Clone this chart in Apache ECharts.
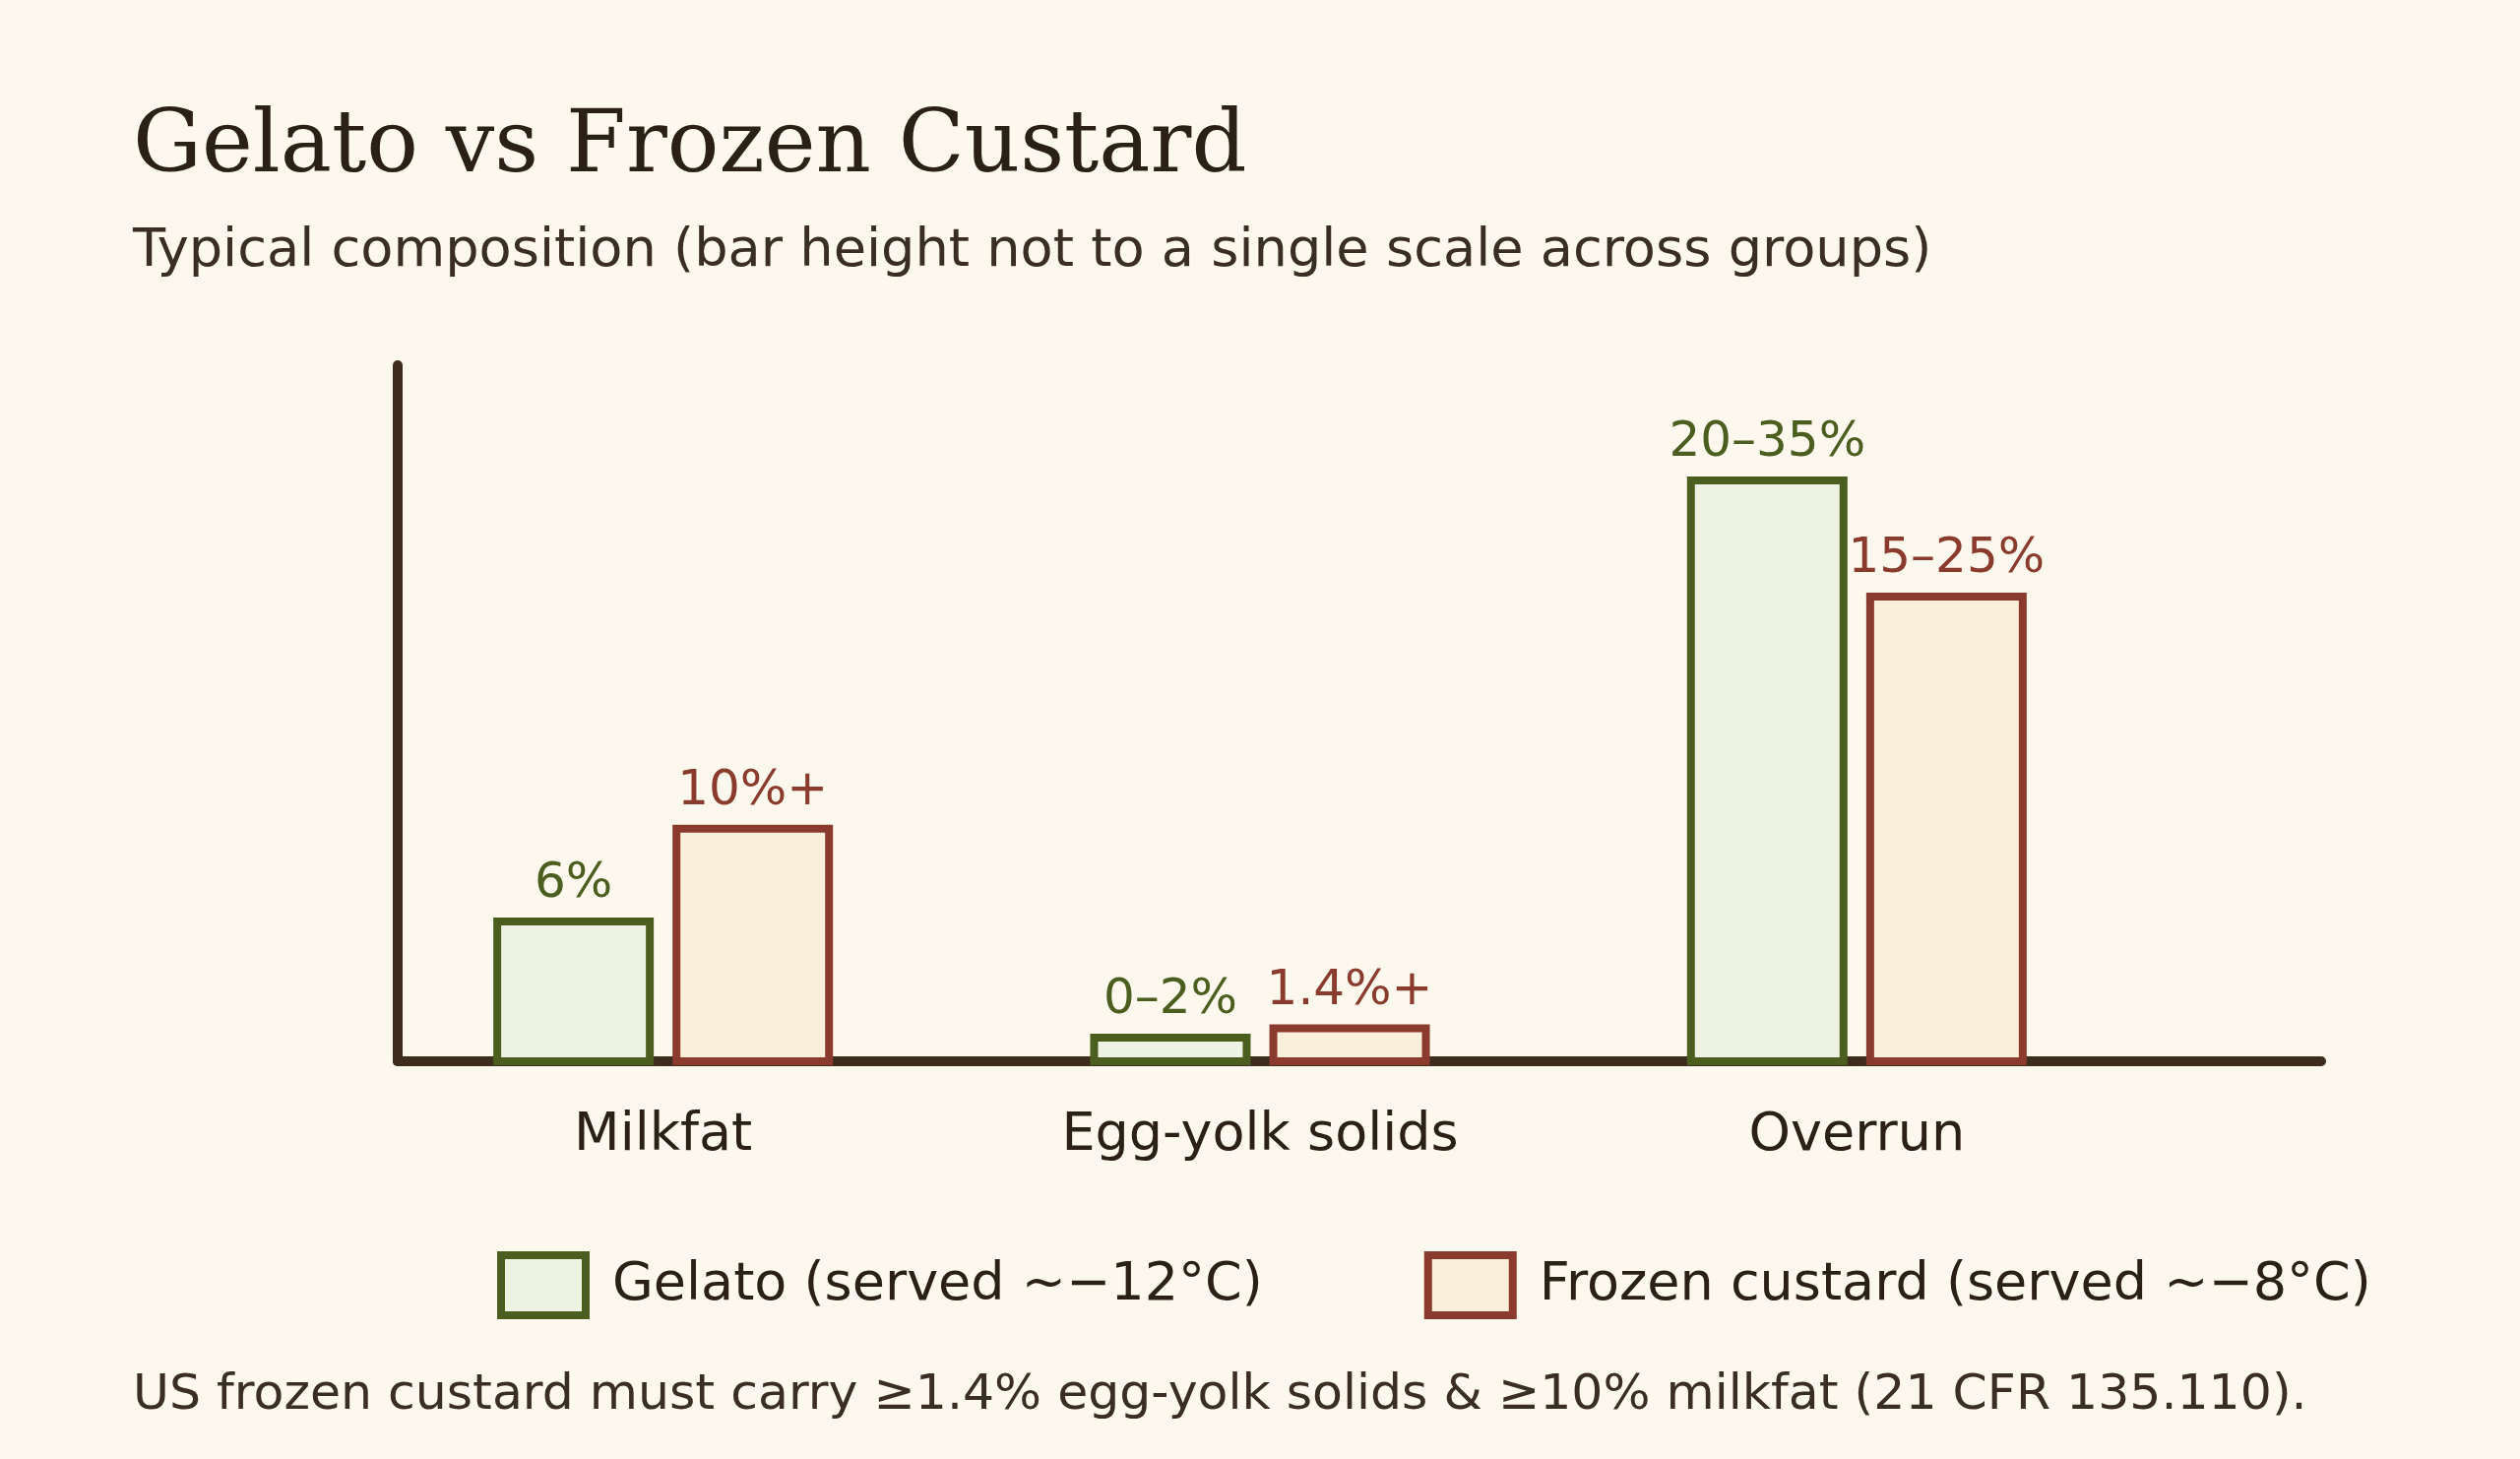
<!DOCTYPE html>
<html>
<head>
<meta charset="utf-8">
<title>Gelato vs Frozen Custard</title>
<script src="https://cdn.jsdelivr.net/npm/echarts@6/dist/echarts.min.js"></script>
<style>
  html, body { margin: 0; padding: 0; background: #fcf8ee; }
  #chart { width: 2560px; height: 1482px; }
</style>
</head>
<body>
<div id="chart"></div>
<script>
// groups and the drawn bar heights (heights are not to one scale across groups)
const categories = ['Milkfat', 'Egg-yolk solids', 'Overrun'];
const gelatoValues = [6, 1, 25];
const custardValues = [10, 1.4, 20];
const gelatoLabels = ['6%', '0–2%', '20–35%'];
const custardLabels = ['10%+', '1.4%+', '15–25%'];
const seriesNames = ['Gelato (served ~−12°C)', 'Frozen custard (served ~−8°C)'];

const ink = '#2b2015';
const axisColor = '#3d2b1b';
const green = '#4b5e20';
const red = '#8b3a2e';
const sans = 'DejaVu Sans';

const chart = echarts.init(document.getElementById('chart'));

function barSeries(name, values, labels, stroke, fill) {
  return {
    name: name,
    type: 'bar',
    xAxisIndex: 0,
    yAxisIndex: 0,
    data: values,
    barWidth: 163,
    barGap: '11.7%',
    itemStyle: { color: fill, borderColor: stroke, borderWidth: 8 },
    label: {
      show: true,
      position: 'top',
      distance: 9,
      color: stroke,
      fontFamily: sans,
      fontSize: 50,
      formatter: p => labels[p.dataIndex]
    },
    emphasis: { disabled: true }
  };
}

const option = {
  backgroundColor: '#fcf8ee',
  animation: false,
  title: [
    {
      text: 'Gelato vs Frozen Custard',
      left: 130, top: 102,
      textStyle: { fontFamily: 'DejaVu Serif', fontWeight: 'normal', fontSize: 87.6, color: ink }
    },
    {
      text: 'Typical composition (bar height not to a single scale across groups)',
      left: 130, top: 224,
      textStyle: { fontFamily: sans, fontWeight: 'normal', fontSize: 54.2, color: '#3a2e22' }
    },
    {
      text: 'US frozen custard must carry ≥1.4% egg-yolk solids & ≥10% milkfat (21 CFR 135.110).',
      left: 130, top: 1387,
      textStyle: { fontFamily: sans, fontWeight: 'normal', fontSize: 50.5, color: '#3a2e22' }
    }
  ],
  legend: {
    left: 505,
    top: 1271,
    padding: 0,
    itemWidth: 86,
    itemHeight: 61,
    itemGap: 164,
    icon: 'rect',
    selectedMode: false,
    itemStyle: { borderWidth: 8 },
    textStyle: { fontFamily: sans, fontSize: 54, color: ink, padding: [0, 0, 0, 22] },
    data: seriesNames
  },
  grid: [
    { left: 370.5, width: 1819, top: 366.2, height: 715.8 },
    { left: 404, width: 1954, top: 371, height: 707 }
  ],
  xAxis: [
    {
      type: 'category',
      gridIndex: 0,
      data: categories,
      axisLine: { show: false },
      axisTick: { show: false },
      axisLabel: { fontFamily: sans, fontSize: 54, color: ink, margin: 44.5 }
    },
    {
      type: 'value',
      gridIndex: 1,
      min: 0, max: 1,
      axisLine: { show: true, lineStyle: { color: axisColor, width: 10 } },
      axisTick: { show: false },
      axisLabel: { show: false },
      splitLine: { show: false }
    }
  ],
  yAxis: [
    {
      type: 'value',
      gridIndex: 0,
      min: -0.356, max: 30,
      startValue: -0.356,
      show: false
    },
    {
      type: 'value',
      gridIndex: 1,
      min: 0, max: 30,
      axisLine: { show: true, lineStyle: { color: axisColor, width: 10 } },
      axisTick: { show: false },
      axisLabel: { show: false },
      splitLine: { show: false }
    }
  ],
  series: [
    barSeries(seriesNames[0], gelatoValues, gelatoLabels, green, '#eef2e3'),
    barSeries(seriesNames[1], custardValues, custardLabels, red, '#faefdb')
  ]
};

chart.setOption(option);
</script>
</body>
</html>
